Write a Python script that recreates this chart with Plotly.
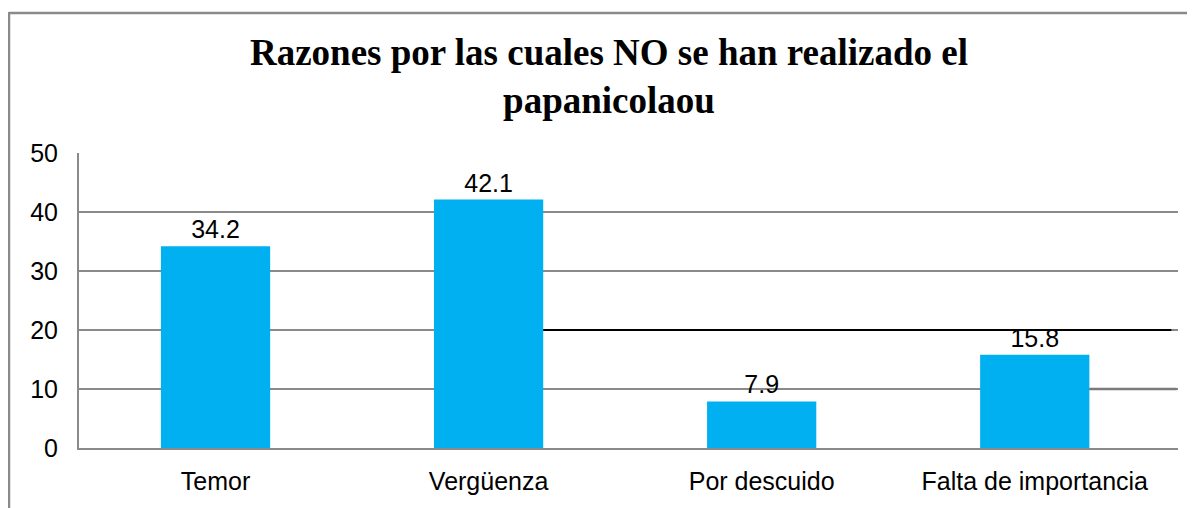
import plotly.graph_objects as go

categories = ["Temor", "Vergüenza", "Por descuido", "Falta de importancia"]
values = [34.2, 42.1, 7.9, 15.8]
y_ticks = [0, 10, 20, 30, 40, 50]
title_text = "Razones por las cuales NO se han realizado el<br>papanicolaou"

W, H = 1187, 500  # page body has an 8px margin

fig = go.Figure()
fig.add_trace(go.Bar(
    x=categories, y=values,
    marker=dict(color="#00B0F0", line=dict(width=0)),
    width=0.4,
    text=values, texttemplate="%{y:.1f}", textposition="outside",
    textfont=dict(family="Liberation Sans, Arial", size=25, color="#000000"),
    cliponaxis=False,
))

GRAY = "#8a8a8a"
fig.update_layout(
    width=W, height=H,
    margin=dict(l=71, r=17, t=145, b=60),
    paper_bgcolor="white", plot_bgcolor="white",
    showlegend=False,
    title=dict(text="<b>" + title_text + "</b>",
               font=dict(family="Liberation Serif, Times New Roman", size=37, color="#000000"),
               x=601 / W, xanchor="center", xref="container",
               y=1 - 57 / H, yanchor="top", yref="container"),
    xaxis=dict(showline=True, linecolor=GRAY, linewidth=2, showgrid=False,
               tickfont=dict(family="Liberation Sans, Arial", size=25, color="#000000"),
               ticklabelstandoff=10),
    yaxis=dict(range=[0, 50], tickvals=y_ticks, showgrid=True, gridcolor=GRAY, gridwidth=2,
               showline=True, linecolor=GRAY, linewidth=2, zeroline=False,
               tickfont=dict(family="Liberation Sans, Arial", size=25, color="#000000"),
               ticklabelstandoff=14),
    bargap=0.6,
)

# outer frame (top and left edges, as in the reference)
fig.add_shape(type="line", xref="paper", yref="paper", xsizemode="pixel", ysizemode="pixel",
              xanchor=0, yanchor=1, x0=-70, x1=1200, y0=140, y1=140,
              line=dict(color=GRAY, width=2.5))
fig.add_shape(type="line", xref="paper", yref="paper", xsizemode="pixel", ysizemode="pixel",
              xanchor=0, yanchor=1, x0=-70, x1=-70, y0=141, y1=-400,
              line=dict(color=GRAY, width=2.5))
# dark line segment at 20 and extended line at 10
fig.add_shape(type="line", xref="x", yref="y", x0=1.2, x1=3.5, y0=20, y1=20,
              line=dict(color="#000000", width=2))
fig.add_shape(type="line", xref="x", yref="y", x0=3.2, x1=3.52, y0=10, y1=10,
              line=dict(color="#7a7a7a", width=2.5))

fig.write_html("out.html")
